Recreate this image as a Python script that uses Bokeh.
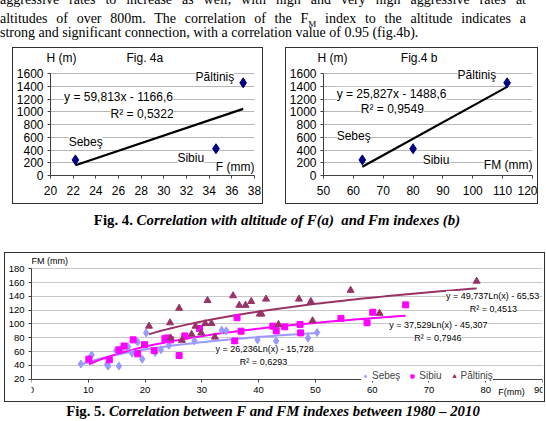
import numpy as np
from bokeh.plotting import figure
from bokeh.models import Range1d, FixedTicker, Div, Legend, LegendItem, Title
from bokeh.layouts import column, row
from bokeh.embed import file_html
from bokeh.resources import INLINE
from bokeh.core.properties import value

# ---------------- data ----------------
stations = ["Sebeş", "Sibiu", "Păltiniş"]
f_index = [22.2, 34.6, 37.0]          # F (mm)
fm_index = [63.0, 80.0, 111.5]        # FM (mm)
altitude = [245, 420, 1455]           # H (m)

trend4a = (59.813, -1166.6)
trend4b = (25.827, -1488.6)
eq4a = ["y = 59,813x - 1166,6", "R² = 0,5322"]
eq4b = ["y = 25,827x - 1488,6", "R² = 0,9549"]

sebes_f = [8.7, 10.1, 10.6, 13.3, 13.5, 15.4, 14.9, 16.0, 17.0, 17.7, 18.7, 19.5, 20.2,
           21.6, 21.8, 22.8, 24.2, 28.7, 33.5, 34.3, 39.8, 43.1, 48.7, 50.3]
sebes_fm = [42, 49, 55, 41, 39, 39, 61.5, 65.5, 67, 57.7, 73.8, 49, 87,
            60.6, 58.7, 62.6, 69, 75.3, 91, 90, 77, 75.3, 79.7, 87.5]
sibiu_f = [10.1, 13.7, 15.4, 16.3, 17.9, 18.7, 19.9, 21.6, 23.5, 23.9, 24.5, 26.0, 27.0,
           29.6, 35.8, 36.2, 36.9, 42.5, 43.1, 44.6, 47.3, 47.4, 54.5, 59.1, 60.1, 65.9]
sibiu_fm = [49, 48, 62.5, 68, 77, 56.7, 70, 61.6, 78.7, 79.7, 77, 54.2, 82.6,
            93.4, 75.3, 109, 89.5, 96.8, 90, 95.8, 99.3, 87, 108, 101.7, 116.9, 127.6]
paltinis_f = [20.7, 24.4, 24.5, 26.0, 26.5, 28.2, 28.9, 29.9, 30.6, 31.0, 31.7, 32.3, 35.5,
              36.6, 37.7, 38.7, 40.2, 40.5, 41.3, 43.5, 47.1, 49.2, 49.5, 56.2, 61.3, 78.4]
paltinis_fm = [96.8, 101.7, 79.7, 122.7, 76.3, 85, 96.8, 87, 100.7, 134, 100.7, 81, 140.8,
               127, 127, 132.5, 114.4, 114.4, 136, 99.3, 136, 132.5, 104.6, 148.7, 115.4, 161.9]
log_trends = {"Sebeş": (26.236, -15.728), "Sibiu": (37.529, -45.307), "Păltiniş": (49.737, -65.53)}
log_eqs = {"Sebeş": ["y = 26,236Ln(x) - 15,728", "R² = 0,6293"],
           "Sibiu": ["y = 37,529Ln(x) - 45,307", "R² = 0,7946"],
           "Păltiniş": ["y = 49,737Ln(x) - 65,53", "R² = 0,4513"]}

H_TICKS = list(range(0, 1601, 200))
FM_TICKS = list(range(20, 181, 20))

SANS = "Liberation Sans"
SERIF = "Liberation Serif"
AX = "#404040"
BORDER = {"border": "1px solid #303030", "box-sizing": "border-box"}
NB = "\u00a0"


def style_axes(p, size):
    for ax in (p.xaxis[0], p.yaxis[0]):
        ax.axis_line_color = AX
        ax.major_tick_line_color = AX
        ax.major_tick_out = 3
        ax.major_tick_in = 0
        ax.minor_tick_line_color = None
        ax.major_label_text_font = SANS
        ax.major_label_text_font_size = size
        ax.major_label_text_color = "#000000"


def fig4(xr, xticks, xs, head, xlabel, pos, eq, trend, width, mb_right, margin_left, head_off):
    p = figure(width=width, height=157, x_range=Range1d(*xr), y_range=Range1d(0, 1727),
               output_backend="svg", toolbar_location=None, min_border_left=36,
               min_border_right=mb_right, min_border_top=16, min_border_bottom=30,
               margin=(0, 0, 0, margin_left), styles=BORDER)
    p.title = Title(text=head, align="left", offset=head_off, standoff=1, text_font=SANS,
                    text_font_size="12px", text_font_style="normal", text_color="black")
    p.outline_line_color = None
    p.xgrid.visible = False
    p.ygrid.ticker = FixedTicker(ticks=H_TICKS)
    p.ygrid.grid_line_color = "#b8b8b8"
    p.yaxis.ticker = FixedTicker(ticks=H_TICKS)
    p.yaxis.bounds = (0, 1600)
    p.xaxis.ticker = FixedTicker(ticks=xticks)
    style_axes(p, "12px")
    p.yaxis.major_label_standoff = 4
    p.xaxis.major_label_standoff = 7

    x0, x1 = min(xs), max(xs)
    p.line([x0, x1], [trend[0] * x0 + trend[1], trend[0] * x1 + trend[1]],
           line_color="black", line_width=2.2)
    p.scatter(xs, altitude, marker="diamond", size=10, color="#000080")

    lx = [pos[s][0] for s in stations] + [pos["eq"][0], pos["r2"][0]]
    ly = [pos[s][1] for s in stations] + [pos["eq"][1], pos["r2"][1]]
    p.text(lx, ly, text=stations + eq, text_font=value(SANS), text_font_size="12px",
           text_baseline="middle", background_fill_color="white", text_color="black")
    p.text([xr[1]], [pos["xl"]], text=[xlabel], text_font=value(SANS), text_font_size="12px",
           text_baseline="middle", text_align="right", background_fill_color="white")
    return p


pos4a = {"Sebeş": (21.6, 520), "Sibiu": (31.2, 270), "Păltiniş": (32.8, 1552),
         "eq": (21.2, 1235), "r2": (25.3, 966), "xl": 127}
pos4b = {"Sebeş": (54.4, 618), "Sibiu": (83.2, 238), "Păltiniş": (94.9, 1584),
         "eq": (54.4, 1283), "r2": (62.5, 1045), "xl": 158}

p4a = fig4((20, 38), list(range(20, 39, 2)), f_index, "H (m)" + NB * 15 + "Fig. 4a", "F (mm)",
           pos4a, eq4a, trend4a, 251, 10, 12, -4)
p4b = fig4((50, 120), list(range(50, 121, 10)), fm_index, "H (m)" + NB * 16 + "Fig.4 b", "FM (mm)",
           pos4b, eq4b, trend4b, 253, 7, 22, -6)

# ---------------- Fig 5 ----------------
p5 = figure(width=541, height=150, x_range=Range1d(0, 90), y_range=Range1d(-15.2, 202.0),
            output_backend="svg", toolbar_location=None, min_border_left=22,
            min_border_right=4, min_border_top=0, min_border_bottom=0,
            margin=(0, 0, 0, 4), styles=BORDER)
p5.outline_line_color = None
p5.xgrid.visible = False
p5.ygrid.ticker = FixedTicker(ticks=FM_TICKS)
p5.ygrid.grid_line_color = "#c8c8c8"
p5.yaxis.ticker = FixedTicker(ticks=FM_TICKS)
p5.yaxis.bounds = (20, 180)
p5.xaxis.ticker = FixedTicker(ticks=list(range(0, 91, 10)))
p5.xaxis.fixed_location = 20
style_axes(p5, "9.5px")
p5.yaxis.major_label_standoff = 4
p5.xaxis.major_label_standoff = 5

series = [("Sebeş", sebes_f, sebes_fm, "#9999ff", "diamond", 8),
          ("Sibiu", sibiu_f, sibiu_fm, "#ff00ff", "square", 6),
          ("Păltiniş", paltinis_f, paltinis_fm, "#993366", "triangle", 7)]
items = []
for name, fx, fy, col, mk, sz in series:
    a, b = log_trends[name]
    xx = np.linspace(min(fx), max(fx), 60)
    p5.line(xx, a * np.log(xx) + b, line_color=col, line_width=2)
for name, fx, fy, col, mk, sz in series:
    r = p5.scatter(fx, fy, marker=mk, size=sz, color=col)
    items.append(LegendItem(label=name, renderers=[r]))

eq_pos = {"Sebeş": [(32.4, 63), (36.7, 44.5)], "Sibiu": [(63.0, 98.8), (67.4, 80.2)],
          "Păltiniş": [(73.0, 140.5), (77.2, 122.3)]}
ex, ey, et = [], [], []
for name in stations:
    for (x, y), t in zip(eq_pos[name], log_eqs[name]):
        ex.append(x); ey.append(y); et.append(t)
p5.text(ex, ey, text=et, text_font=value(SANS), text_font_size="9px", text_baseline="middle",
        background_fill_color="white")
p5.text([0.0, 82.2], [190.5, 1.0], text=["FM (mm)", "F(mm)"], text_font=value(SANS),
        text_font_size="9px", text_baseline="middle")

leg = Legend(items=items, orientation="horizontal", location=(330, 22),
             label_text_font=SANS, label_text_font_size="10px", glyph_width=8, glyph_height=8,
             label_standoff=3, spacing=8, padding=3, margin=0, border_line_color=None,
             background_fill_color="white", background_fill_alpha=1.0, label_height=9)
p5.add_layout(leg)

# ---------------- text ----------------
LINE = "position:absolute;left:0;width:526px;white-space:nowrap;"
JUST = "text-align:justify;text-align-last:justify;white-space:normal;"
top_html = (
    f'<div style="position:relative;width:546px;height:47px;font-family:\'{SERIF}\';'
    'font-size:14px;line-height:15px;color:#000;">'
    f'<div style="{LINE}{JUST}top:-8.5px;">aggressive rates to increase as '
    'well, with high and very high aggressive rates at</div>'
    f'<div style="{LINE}{JUST}top:11.2px;">altitudes of over 800m. The '
    'correlation of the F<sub style="font-size:9px;line-height:0;">M</sub> index to the altitude '
    'indicates a</div>'
    f'<div style="{LINE}top:25.2px;">strong and significant connection, with a correlation value '
    'of 0.95 (fig.4b).</div>'
    '</div>')
top = Div(text=top_html, width=546, height=47, margin=0, styles={"overflow": "hidden"})

cap4 = Div(text=(f'<div style="font-family:\'{SERIF}\';font-size:14.8px;font-weight:bold;'
                 'text-align:center;width:546px;padding-left:8px;margin-top:8px;line-height:16px;">'
                 'Fig. 4. <i>Correlation with altitude of F(a)&nbsp; and Fm indexes (b)</i></div>'),
           width=546, height=48, margin=0)
cap5 = Div(text=(f'<div style="font-family:\'{SERIF}\';font-size:14.8px;font-weight:bold;'
                 'text-align:center;width:546px;margin-top:1px;line-height:16px;">'
                 'Fig. 5. <i>Correlation between F and FM indexes between 1980 – 2010</i></div>'),
           width=546, height=19, margin=0)

layout = column(top, row(p4a, p4b, margin=0, spacing=0), cap4, p5, cap5, margin=0, spacing=0)
open("out.html", "w").write(file_html(layout, INLINE))
